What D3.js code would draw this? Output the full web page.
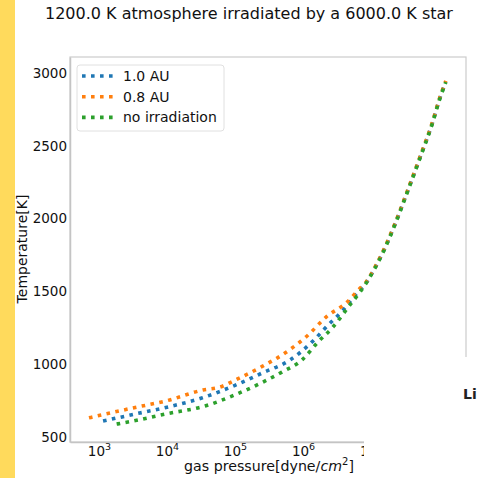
<!DOCTYPE html>
<html><head><meta charset="utf-8">
<script src="https://cdn.jsdelivr.net/npm/d3@7"></script>
<style>html,body{margin:0;padding:0;background:#fff;overflow:hidden}svg{display:block}</style>
</head><body>
<script>
// ---- data (log10 of gas pressure in dyne/cm^2, temperature in K) ----
const seriesNames = ["1.0 AU", "0.8 AU", "no irradiation"];
const xTickExponents = [3, 4, 5, 6, 7];
const yTickValues = [500, 1000, 1500, 2000, 2500, 3000];
const logP_1AU  = [3.06, 3.5, 4.0, 4.51, 5.0, 5.4, 5.81, 6.13, 6.37, 6.59, 6.78, 6.93, 7.06, 7.18, 7.35, 7.53, 7.72, 7.90, 8.01, 8.10];
const temp_1AU  = [610, 655, 705, 768, 855, 940, 1029, 1152, 1269, 1372, 1480, 1560, 1663, 1773, 1958, 2178, 2418, 2652, 2823, 2940];
const logP_08AU = [2.853, 3.5, 4.0, 4.53, 4.78, 5.0, 5.4, 5.735, 6.06, 6.34, 6.65, 6.82, 6.93, 7.06, 7.18, 7.35, 7.53, 7.72, 7.90, 8.01, 8.10];
const temp_08AU = [632, 700, 750, 823, 843, 890, 985, 1077, 1194, 1324, 1427, 1512, 1566, 1669, 1779, 1964, 2184, 2424, 2658, 2829, 2946];
const logP_none = [3.26, 3.5, 4.0, 4.56, 5.0, 5.4, 5.69, 5.985, 6.22, 6.44, 6.69, 6.85, 6.93, 7.06, 7.18, 7.35, 7.53, 7.72, 7.90, 8.01, 8.10];
const temp_none = [589, 610, 660, 713, 790, 875, 946, 1029, 1152, 1255, 1407, 1503, 1558, 1661, 1771, 1956, 2176, 2416, 2650, 2821, 2938];
const colors = ["#1f77b4", "#ff7f0e", "#2ca02c"];

const W = 477, H = 478;
const plot = {l: 70, r: 466, t: 57, b: 442};
const svg = d3.select("body").append("svg").attr("width", W).attr("height", H)
  .style("font-family", "'DejaVu Sans', sans-serif");
svg.append("rect").attr("width", W).attr("height", H).attr("fill", "#fff");
svg.append("rect").attr("x", 0).attr("y", 0).attr("width", 15).attr("height", H).attr("fill", "#ffda5c");

const x = d3.scaleLog().domain([Math.pow(10, 2.574), Math.pow(10, 8.397)]).range([plot.l, plot.r]);
const y = d3.scaleLinear().domain([466, 3110]).range([plot.b, plot.t]);

// title
svg.append("text").attr("x", 45).attr("y", 19).attr("font-size", 16).attr("fill", "#111")
  .text("1200.0 K atmosphere irradiated by a 6000.0 K star");

// frame
svg.append("rect").attr("x", plot.l).attr("y", plot.t).attr("width", plot.r - plot.l).attr("height", plot.b - plot.t)
  .attr("fill", "none").attr("stroke", "#cccccc").attr("stroke-width", 1.2);

// axes
const xAxis = d3.axisBottom(x).tickValues(xTickExponents.map(e => Math.pow(10, e))).tickSize(0).tickPadding(0).tickFormat("");
const gx = svg.append("g").attr("transform", `translate(0,${plot.b})`).call(xAxis);
gx.attr("font-family", "'DejaVu Sans', sans-serif");
gx.select(".domain").attr("stroke", "#c4c4c4").attr("stroke-width", 1.5);
gx.selectAll(".tick").each(function(d) {
  const t = d3.select(this).append("text").attr("y", 14).attr("fill", "#111").attr("font-size", 13.5)
    .attr("text-anchor", "middle");
  t.append("tspan").text("10");
  t.append("tspan").attr("font-size", 9.5).attr("dy", -6).text(Math.round(Math.log10(d)));
});

const yAxis = d3.axisLeft(y).tickValues(yTickValues).tickSize(0).tickPadding(3).tickFormat(d3.format("d"));
const gy = svg.append("g").attr("transform", `translate(${plot.l},0)`).call(yAxis);
gy.select(".domain").attr("stroke", "#c4c4c4").attr("stroke-width", 1.5);
gy.selectAll(".tick text").attr("font-size", 13.5).attr("fill", "#111").attr("font-family", "'DejaVu Sans', sans-serif");

// axis labels
svg.append("text").attr("transform", `translate(27,249) rotate(-90)`).attr("text-anchor", "middle")
  .attr("font-size", 14).attr("fill", "#111").text("Temperature[K]");
const xl = svg.append("text").attr("x", 269).attr("y", 471).attr("text-anchor", "middle").attr("font-size", 14.2).attr("fill", "#111");
xl.append("tspan").text("gas pressure[dyne/");
xl.append("tspan").attr("font-style", "italic").text("cm");
xl.append("tspan").attr("font-size", 10).attr("dy", -6).text("2");
xl.append("tspan").attr("dy", 6).text("]");

// lines
const data = [
  logP_1AU.map((p, i) => [Math.pow(10, p), temp_1AU[i]]),
  logP_08AU.map((p, i) => [Math.pow(10, p), temp_08AU[i]]),
  logP_none.map((p, i) => [Math.pow(10, p), temp_none[i]])
];
const line = d3.line().x(d => x(d[0])).y(d => y(d[1])).curve(d3.curveMonotoneX);
data.forEach((d, i) => {
  svg.append("path").datum(d).attr("d", line).attr("fill", "none").attr("stroke", colors[i])
    .attr("stroke-width", 3.6).attr("stroke-dasharray", "3.6,5.4");
});

// legend
const lg = svg.append("g");
lg.append("rect").attr("x", 77).attr("y", 65).attr("width", 147).attr("height", 66).attr("rx", 3)
  .attr("fill", "#fff").attr("fill-opacity", 0.8).attr("stroke", "#e0e0e0");
seriesNames.forEach((n, i) => {
  const yy = 76 + i * 20.7;
  lg.append("line").attr("x1", 82).attr("x2", 113).attr("y1", yy).attr("y2", yy)
    .attr("stroke", colors[i]).attr("stroke-width", 3.6).attr("stroke-dasharray", "3.6,5.4");
  lg.append("text").attr("x", 123).attr("y", yy + 5).attr("font-size", 14).attr("fill", "#111").text(n);
});

// overlapping page element at bottom right
svg.append("rect").attr("x", 364).attr("y", 357).attr("width", W - 364).attr("height", H - 357).attr("fill", "#fff");
svg.append("text").attr("x", 463).attr("y", 399).attr("font-size", 14).attr("font-weight", "bold").attr("fill", "#222").text("Li");
</script>
</body></html>
